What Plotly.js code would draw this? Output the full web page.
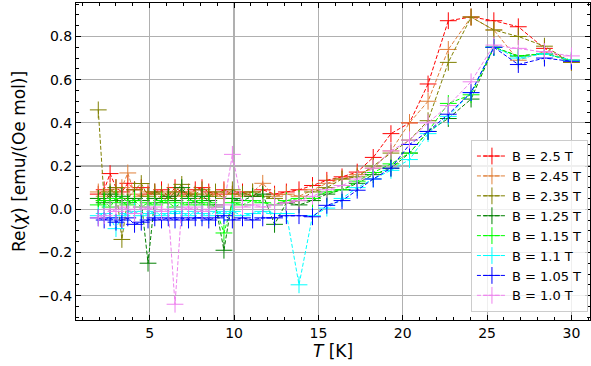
<!DOCTYPE html>
<html>
<head>
<meta charset="utf-8">
<script src="https://cdn.plot.ly/plotly-3.0.1.min.js"></script>
<style>html,body{margin:0;padding:0;background:#fff}#chart{width:591px;height:366px}</style>
</head>
<body>
<div id="chart"></div>
<script>
// Temperature grid [K]
const T = [1.95, 2.3, 2.65, 3.0, 3.35, 3.7, 4.1, 4.5, 4.9, 5.3, 5.7, 6.1, 6.5, 6.9, 7.3, 7.7, 8.1, 8.5, 8.9, 9.4,
           9.9, 10.5, 11.1, 11.7, 12.4, 13.1, 13.85, 14.65, 15.5, 16.4, 17.3, 18.25, 19.3, 20.4, 21.5, 22.7,
           24.05, 25.4, 26.85, 28.4, 30.0];

const seriesNames = ["B = 2.5 T", "B = 2.45 T", "B = 2.35 T", "B = 1.25 T", "B = 1.15 T", "B = 1.1 T", "B = 1.05 T", "B = 1.0 T"];

const chi_2p5 = [0.07, 0.09, 0.165, 0.10, 0.08, 0.12, 0.09, 0.10, 0.07, 0.08, 0.09, 0.06, 0.10, 0.08, 0.07, 0.09, 0.10, 0.08, 0.07, 0.09,
                 0.07, 0.08, 0.06, 0.09, 0.07, 0.08, 0.09, 0.11, 0.134, 0.15, 0.172, 0.24, 0.35, 0.40, 0.58, 0.873,
                 0.89, 0.873, 0.845, 0.745, 0.68];
const chi_2p45 = [0.08, 0.06, 0.09, 0.07, 0.10, 0.168, 0.07, 0.06, 0.08, 0.07, 0.05, 0.08, 0.07, 0.06, 0.08, 0.07, 0.05, 0.07, 0.06, 0.08,
                  0.07, 0.06, 0.08, 0.12, 0.06, 0.07, 0.06, 0.09, 0.12, 0.14, 0.16, 0.19, 0.27, 0.40, 0.50, 0.74,
                  0.89, 0.83, 0.69, 0.73, 0.68];
const chi_2p35 = [0.46, 0.04, 0.08, 0.10, -0.14, 0.05, 0.09, 0.119, 0.06, 0.08, 0.07, 0.05, 0.08, 0.115, 0.06, 0.07, 0.09, 0.06, 0.08, 0.05,
                  0.09, 0.07, 0.08, 0.06, 0.05, 0.03, 0.04, 0.08, 0.10, 0.14, 0.15, 0.20, 0.26, 0.32, 0.41, 0.68,
                  0.89, 0.83, 0.80, 0.755, 0.68];
const chi_1p25 = [0.05, 0.03, 0.07, 0.04, 0.06, 0.03, 0.05, 0.04, -0.25, 0.05, 0.03, 0.06, 0.04, 0.10, 0.05, 0.03, 0.06, 0.04, 0.02, -0.19,
                  0.05, 0.04, 0.06, 0.07, -0.07, 0.03, 0.02, 0.04, 0.07, 0.09, 0.12, 0.16, 0.19, 0.26, 0.36, 0.42,
                  0.51, 0.75, 0.71, 0.72, 0.69];
const chi_1p15 = [0.02, 0.04, 0.01, 0.05, 0.03, 0.02, 0.04, 0.01, 0.03, 0.02, 0.04, 0.03, 0.01, 0.03, 0.02, 0.04, 0.02, 0.03, 0.01, -0.11,
                  0.03, 0.02, 0.04, 0.03, 0.02, 0.04, 0.05, 0.05, 0.08, 0.09, 0.13, 0.17, 0.21, 0.26, 0.36, 0.49,
                  0.53, 0.75, 0.71, 0.72, 0.69];
const chi_1p1 = [-0.03, -0.02, -0.04, -0.09, -0.03, -0.02, -0.01, -0.03, -0.02, -0.01, -0.03, -0.02, -0.01, -0.02, -0.03, -0.01, -0.02, -0.03, -0.01, -0.02,
                 -0.01, -0.03, -0.02, -0.01, -0.02, -0.02, -0.35, -0.03, 0.005, 0.05, 0.10, 0.14, 0.18, 0.23, 0.35, 0.43,
                 0.54, 0.75, 0.70, 0.72, 0.69];
const chi_1p05 = [-0.04, -0.05, -0.04, -0.06, -0.05, -0.04, -0.07, -0.06, -0.05, -0.04, -0.05, -0.04, -0.05, -0.04, -0.05, -0.04, -0.04, -0.05, -0.04, -0.03,
                  -0.05, -0.04, -0.05, -0.04, -0.04, -0.03, -0.03, -0.035, 0.018, 0.04, 0.088, 0.14, 0.19, 0.30, 0.36, 0.44,
                  0.54, 0.75, 0.67, 0.70, 0.685];
const chi_1p0 = [-0.04, -0.03, 0.00, -0.01, 0.01, 0.00, -0.02, 0.01, 0.00, 0.01, -0.01, 0.00, -0.44, 0.01, 0.00, 0.01, -0.01, 0.00, 0.01, 0.02,
                 0.254, 0.01, 0.02, 0.01, 0.02, 0.03, 0.04, 0.06, 0.09, 0.11, 0.14, 0.19, 0.27, 0.32, 0.40, 0.48,
                 0.59, 0.76, 0.745, 0.73, 0.71];

const allSeries = [chi_2p5, chi_2p45, chi_2p35, chi_1p25, chi_1p15, chi_1p1, chi_1p05, chi_1p0];
const colors = ["#ff0000", "#e0803a", "#808000", "#008000", "#00ff00", "#00ffff", "#0000ff", "#ee82ee"];

const traces = allSeries.map((ys, i) => ({
  x: T, y: ys, name: seriesNames[i], type: "scatter", mode: "lines+markers",
  line: {color: colors[i], width: 1, dash: "4px,2px"},
  marker: {symbol: "cross-thin-open", size: 12, color: colors[i], line: {color: colors[i], width: 1}}
}));

const font = {family: "DejaVu Sans, sans-serif", color: "#000"};
const layout = {
  width: 591, height: 366,
  margin: {l: 76, r: 1, t: 3, b: 46},
  paper_bgcolor: "#fff", plot_bgcolor: "#fff",
  font: Object.assign({size: 14}, font),
  showlegend: true,
  legend: {x: 0.996, xanchor: "right", y: 0.025, yanchor: "bottom",
           bgcolor: "rgba(255,255,255,0.8)", bordercolor: "#cccccc", borderwidth: 1,
           font: Object.assign({size: 13}, font), tracegroupgap: 0},
  xaxis: {
    range: [0.63, 31.1], tickvals: [5, 10, 15, 20, 25, 30], ticktext: ["5", "10", "15", "20", "25", "30"],
    ticks: "inside", ticklen: 5, tickcolor: "#000", showline: true, linecolor: "#000", linewidth: 1, mirror: "allticks",
    showgrid: true, gridcolor: "#b0b0b0", gridwidth: 1.2, zeroline: false,
    minor: {ticks: "inside", dtick: 1, tick0: 0, ticklen: 3, tickcolor: "#000", showgrid: false},
    tickfont: Object.assign({size: 14}, font),
    title: {text: "<i>T</i> [K]", font: Object.assign({size: 17}, font), standoff: 4}
  },
  yaxis: {
    range: [-0.513, 0.955], tickvals: [-0.4, -0.2, 0, 0.2, 0.4, 0.6, 0.8],
    ticktext: ["\u22120.4", "\u22120.2", "0.0", "0.2", "0.4", "0.6", "0.8"],
    ticks: "inside", ticklen: 5, tickcolor: "#000", showline: true, linecolor: "#000", linewidth: 1, mirror: "allticks",
    showgrid: true, gridcolor: "#b0b0b0", gridwidth: 1.2, zeroline: false,
    minor: {ticks: "inside", dtick: 0.05, tick0: 0, ticklen: 3, tickcolor: "#000", showgrid: false},
    tickfont: Object.assign({size: 14}, font),
    title: {text: "Re(<i>χ</i>) [emu/(Oe mol)]", font: Object.assign({size: 17}, font), standoff: 8}
  }
};

Plotly.newPlot("chart", traces, layout, {displayModeBar: false, staticPlot: true});
</script>
</body>
</html>
